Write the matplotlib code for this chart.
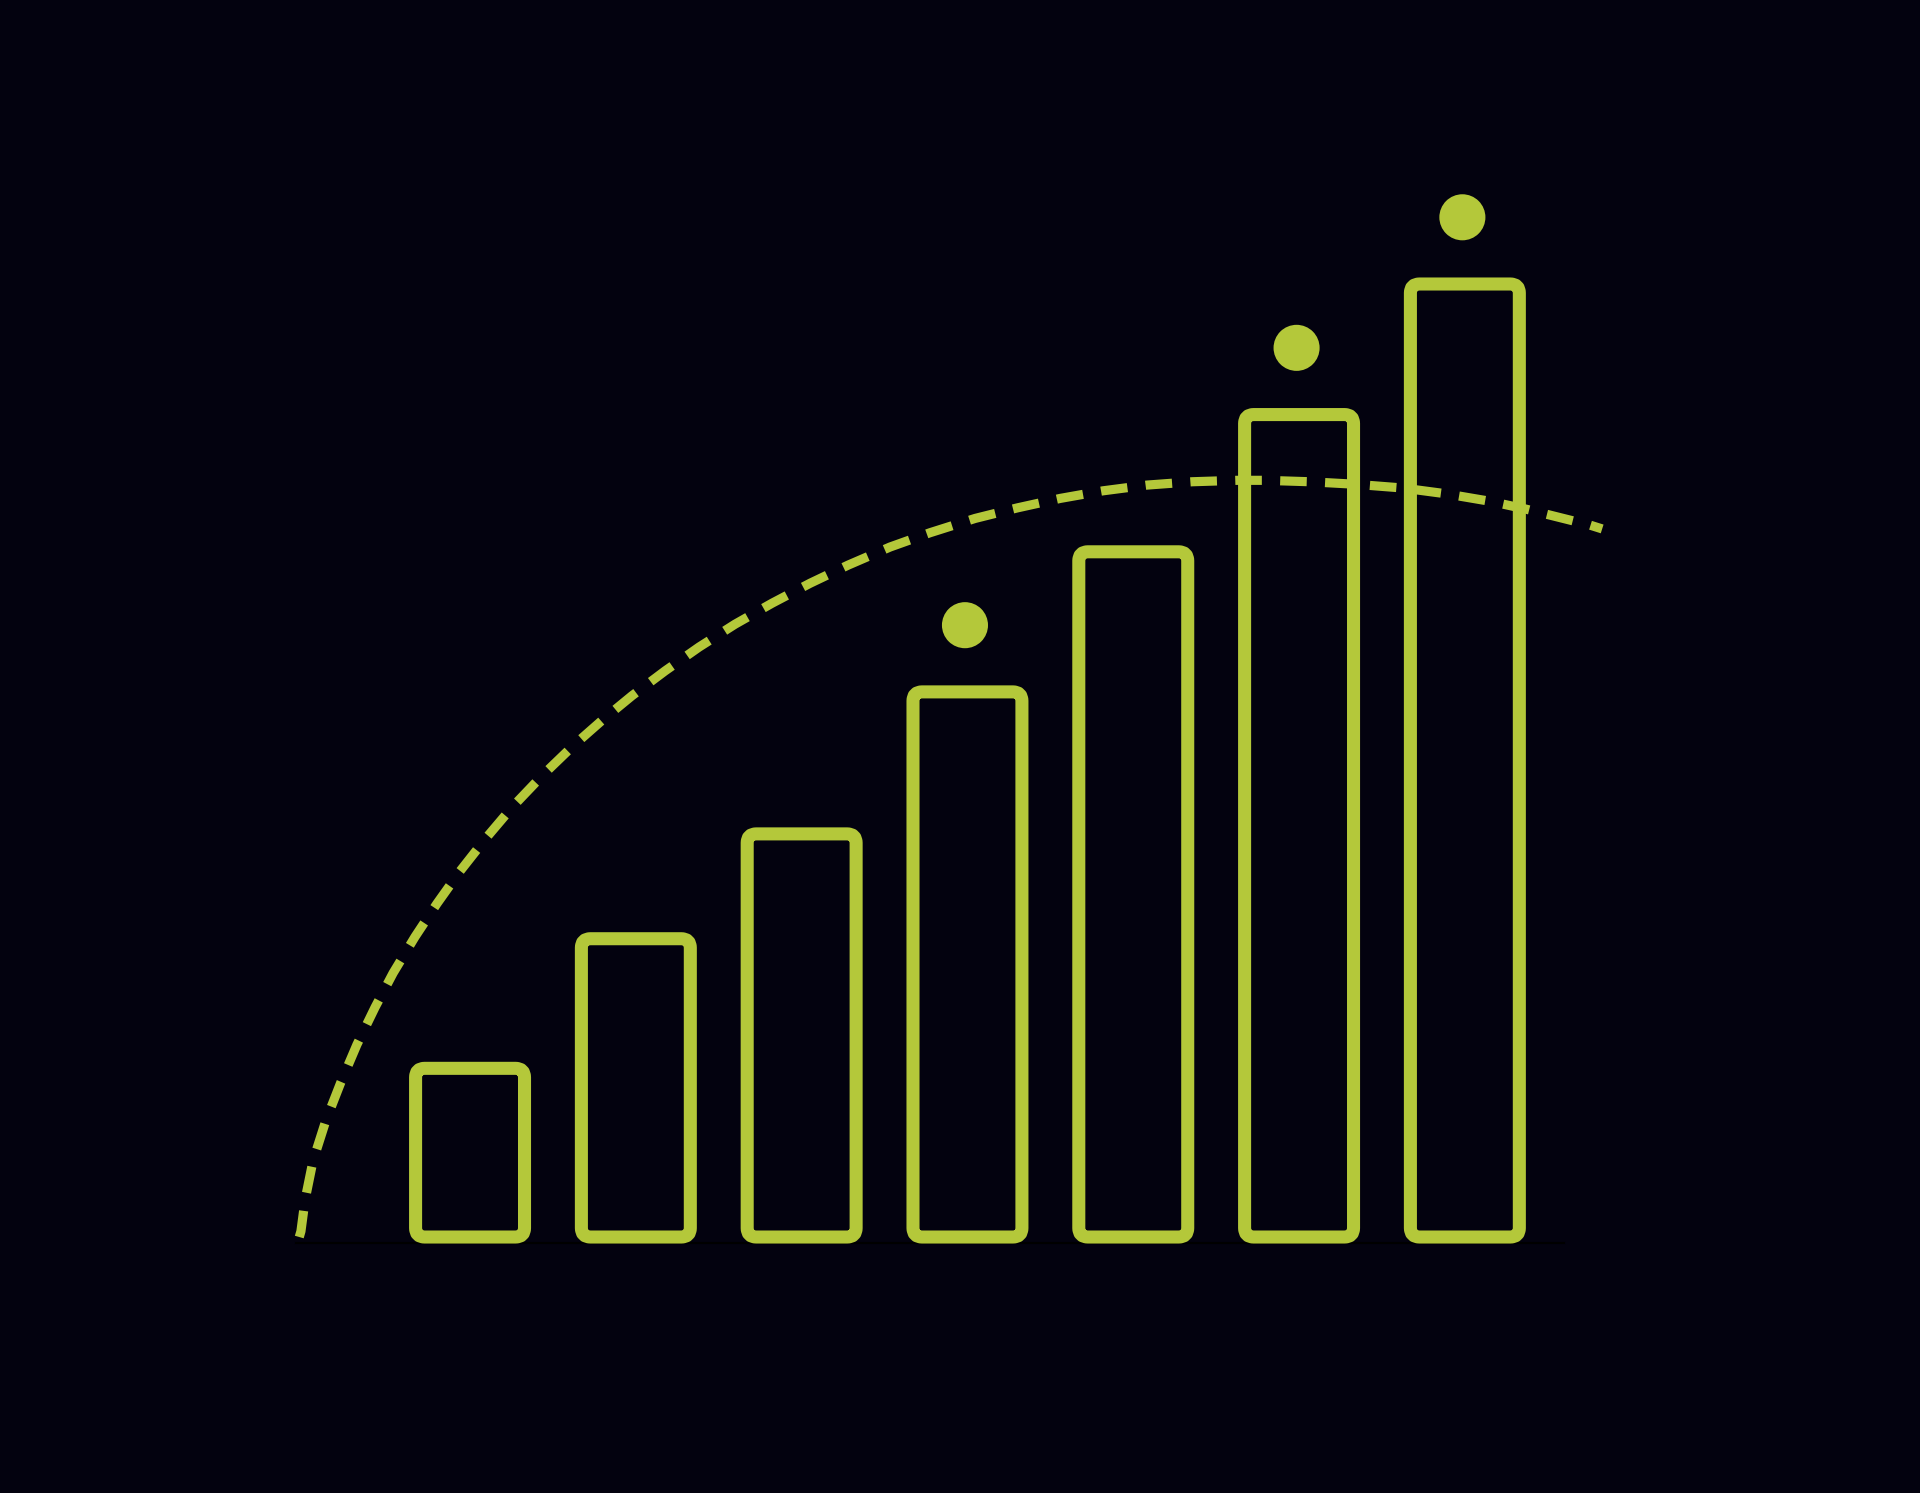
import numpy as np
import matplotlib
matplotlib.use("Agg")
import matplotlib.pyplot as plt
from matplotlib.patches import FancyBboxPatch

# bar heights (tallest bar = 100)
values = [17.7, 31.3, 42.3, 57.2, 71.9, 86.3, 100.0]
# bars that carry a dot above them
marked = [3, 5, 6]
dot_gap = 7.0

# dashed trend curve (x in bar slots, y in bar units)
curve_x = [-1.03, -1.02, -0.995, -0.947, -0.870, -0.780, -0.682, -0.573, -0.464,
           -0.332, -0.199, -0.060, 0.103, 0.259, 0.440, 0.619, 0.802, 0.977,
           1.176, 1.381, 1.598, 1.821, 2.051, 2.280, 2.533, 2.774, 3.046, 3.299,
           3.559, 3.818, 4.083, 4.355, 4.626, 4.795, 5.066, 5.326, 5.621, 5.881,
           6.152, 6.363, 6.502, 6.755, 6.828]
curve_y = [0.0, 0.6, 3.9, 8.0, 12.2, 16.2, 20.2, 24.1, 27.7,
           31.5, 35.0, 38.4, 42.0, 45.2, 48.5, 51.5, 54.3, 56.8,
           59.4, 61.9, 64.3, 66.5, 68.6, 70.5, 72.4, 73.9, 75.4, 76.5,
           77.5, 78.3, 78.9, 79.25, 79.4, 79.4, 79.25, 79.0, 78.6, 78.0,
           77.2, 76.4, 75.8, 74.7, 74.3]

bg = "#03020f"
green = "#b4c83a"

fig = plt.figure(figsize=(19.2, 14.93), dpi=100, facecolor=bg)
ax = fig.add_axes([0, 0, 1, 1])
ax.set_facecolor(bg)
ax.set_xlim(-2.835, 8.745)
ax.set_ylim(-26.86, 129.8)
ax.axis("off")

# faint baseline
ax.plot([-1.05, 6.6], [-0.6, -0.6], color="#000000", lw=1.5, zorder=1)

# dashed curve
ax.plot(curve_x, curve_y, color=green, lw=6.6, dashes=(2.9, 2.0),
        dash_capstyle="butt", zorder=2)

# outlined rounded bars
w = 0.657
aspect = (165.8 / 9.53)
for i, v in enumerate(values):
    box = FancyBboxPatch((i - w / 2, 0), w, v,
                         boxstyle="round,pad=0,rounding_size=0.055",
                         mutation_aspect=aspect,
                         facecolor="none", edgecolor=green, lw=9.4,
                         joinstyle="round", zorder=3)
    ax.add_patch(box)

# dots above selected bars
ax.scatter([i - 0.015 for i in marked], [values[i] + dot_gap for i in marked],
           s=1100, color=green, edgecolors="none", zorder=4)

fig.savefig("out.png", dpi=100, facecolor=bg)
